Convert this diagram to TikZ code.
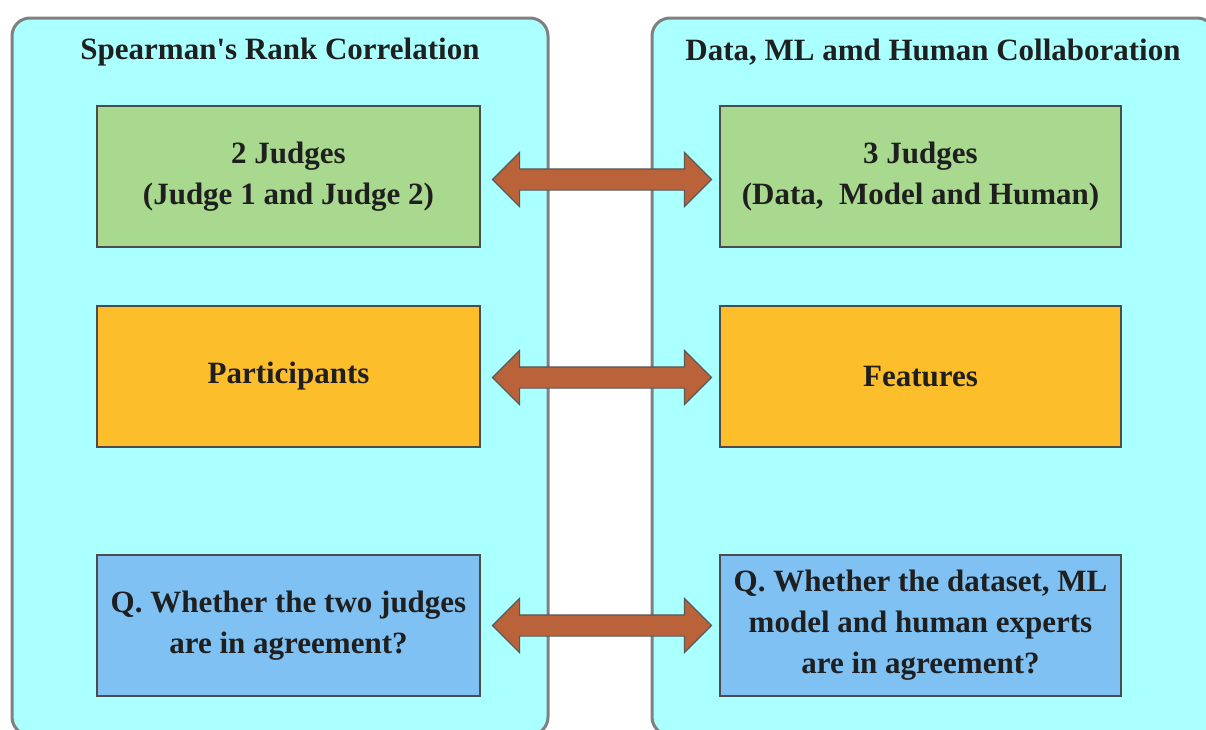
\documentclass[tikz,border=0pt]{standalone}
\usepackage{fontspec}
\setmainfont{Liberation Serif}
\usetikzlibrary{shapes.arrows,calc}

\definecolor{panelcyan}{RGB}{170,255,255}
\definecolor{judgegreen}{RGB}{169,217,142}
\definecolor{itemorange}{RGB}{252,190,42}
\definecolor{askblue}{RGB}{127,193,242}
\definecolor{arrowbrown}{RGB}{186,99,58}

\begin{document}
\begin{tikzpicture}[x=0.5pt, y=-0.5pt,
  every node/.style = {font=\fontsize{15.5}{20.5}\selectfont\bfseries,
    text=black!88, align=center},
  panel/.style = {draw=gray, line width=1.5pt, fill=panelcyan,
    rounded corners=9pt, minimum height=358.5pt},
  box/.style = {draw=black!70, line width=0.8pt, minimum height=70.5pt},
  bigarrow/.style = {double arrow, draw=black!65, line width=0.6pt,
    fill=arrowbrown, inner xsep=0pt, inner ysep=5pt,
    double arrow head extend=8.25pt, double arrow tip angle=90,
    minimum height=109.5pt}]
  \useasboundingbox (0,0) rectangle (1206,729);
  % the two frames
  \node[panel, minimum width=268pt] (spear) at (280,376.5) {};
  \node[panel, minimum width=281.5pt] (collab) at (933.5,376.5) {};
  \node (spearT) at (280,52) {Spearman\textquotesingle s Rank Correlation};
  \node (collabT) at (933,52) {Data, ML amd Human Collaboration};
  % left column
  \node[box, fill=judgegreen, minimum width=191.5pt] (twoj) at (288.5,176.5) {2 Judges\\(Judge 1 and Judge 2)};
  \node[box, fill=itemorange, minimum width=191.5pt] (part) at (288.5,376.5) {Participants};
  \node[box, fill=askblue, minimum width=191.5pt] (askL) at (288.5,625.5) {Q. Whether the two judges\\are in agreement?};
  % right column
  \node[box, fill=judgegreen, minimum width=200.5pt] (threej) at (920.5,176.5) {3 Judges\\(Data,~ Model and Human)};
  \node[box, fill=itemorange, minimum width=200.5pt] (feat) at (920.5,376.5) {Features};
  \node[box, fill=askblue, minimum width=200.5pt] (askR) at (920.5,625.5) {Q. Whether the dataset, ML\\model and human experts\\are in agreement?};
  % links
  \node[bigarrow] (link1) at ($(twoj.east)!0.5!(threej.west)+(2,3)$) {};
  \node[bigarrow] (link2) at ($(part.east)!0.5!(feat.west)+(2,1)$) {};
  \node[bigarrow] (link3) at ($(askL.east)!0.5!(askR.west)+(2,0)$) {};
\end{tikzpicture}
\end{document}
